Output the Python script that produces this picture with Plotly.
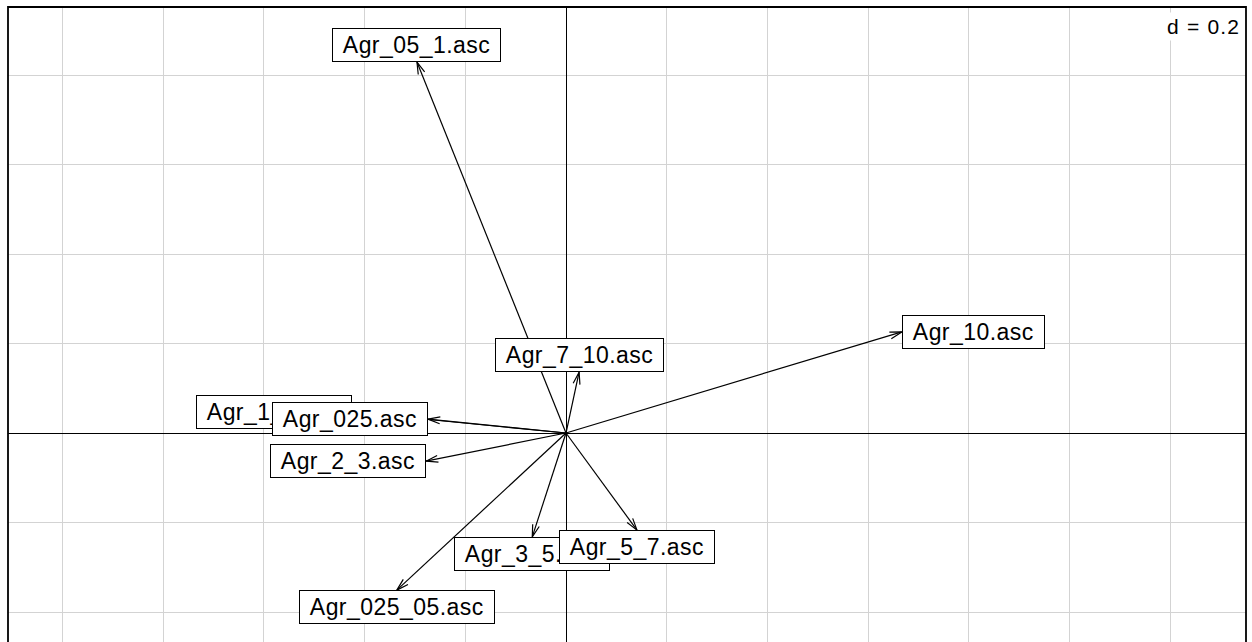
import math
import plotly.graph_objects as go

# Variable loadings on the first two axes
labels = ["Agr_1_2.asc", "Agr_025.asc", "Agr_025_05.asc", "Agr_05_1.asc",
          "Agr_2_3.asc", "Agr_3_5.asc", "Agr_5_7.asc", "Agr_7_10.asc", "Agr_10.asc"]
axis1 = [-0.425, -0.274, -0.336, -0.296, -0.278, -0.067, 0.141, 0.026, 0.667]
axis2 = [0.047, 0.031, -0.351, 0.829, -0.063, -0.232, -0.217, 0.136, 0.226]

grid_step = 0.2
x_range = [-1.1082, 1.3505]
y_range = [-0.4670, 0.9520]

W, H = 1252, 642
margin = dict(l=8, r=6, t=7, b=0)
plot_w = W - margin["l"] - margin["r"]
plot_h = H - margin["t"] - margin["b"]
kx = plot_w / (x_range[1] - x_range[0])
ky = plot_h / (y_range[1] - y_range[0])

fig = go.Figure()

# Arrows from the origin, with open heads computed in screen space
head_len = 12.5
head_ang = math.radians(16)
for lab, x, y in zip(labels, axis1, axis2):
    fig.add_trace(go.Scatter(x=[0, x], y=[0, y], mode="lines",
                             line=dict(color="black", width=1.2),
                             hoverinfo="skip", showlegend=False))
    th = math.atan2(y * ky, x * kx)
    hx, hy = [], []
    for s in (1, -1):
        a = th + s * head_ang
        hx.append(x - head_len * math.cos(a) / kx)
        hy.append(y - head_len * math.sin(a) / ky)
    fig.add_trace(go.Scatter(x=[hx[0], x, hx[1]], y=[hy[0], y, hy[1]], mode="lines",
                             line=dict(color="black", width=1.2),
                             hoverinfo="skip", showlegend=False))

# Boxed labels placed around the arrow tips, by the quadrant of the tip
nb = "\u00a0"
for lab, x, y in zip(labels, axis1, axis2):
    if x > y and x > -y:
        xa, ya = "left", "middle"
    elif x > y and x <= -y:
        xa, ya = "center", "top"
    elif x <= y and x <= -y:
        xa, ya = "right", "middle"
    else:
        xa, ya = "center", "bottom"
    fig.add_annotation(
        x=x, y=y, xref="x", yref="y", showarrow=False,
        text=f'<span style="letter-spacing:0.45px">{nb}{lab}{nb}</span>',
        xanchor=xa, yanchor=ya,
        font=dict(family="Liberation Sans, Arial", size=23, color="black"),
        bgcolor="white", bordercolor="black", borderwidth=1, borderpad=3,
    )

# Grid scale note
fig.add_annotation(
    x=1, y=1, xref="paper", yref="paper", xanchor="right", yanchor="top",
    text='<span style="letter-spacing:1.2px">d = 0.2</span>', showarrow=False,
    font=dict(family="Liberation Sans, Arial", size=21, color="black"),
    bgcolor="white", borderpad=2, xshift=-3, yshift=-5,
)

# Frame (left, top, right; the bottom edge lies below the page)
fig.add_shape(type="rect", xref="paper", yref="paper", x0=0, x1=1, y0=-0.05, y1=1,
              line=dict(color="black", width=1.8), layer="above")

axis_common = dict(showgrid=True, gridcolor="#d3d3d3", gridwidth=1.3,
                   zeroline=True, zerolinecolor="black", zerolinewidth=1.3,
                   showticklabels=False, ticks="", showline=False, dtick=grid_step, tick0=0)
fig.update_layout(
    width=W, height=H, margin=margin,
    paper_bgcolor="white", plot_bgcolor="white",
    xaxis=dict(range=x_range, **axis_common),
    yaxis=dict(range=y_range, **axis_common),
    showlegend=False,
)
fig.write_html("out.html")
